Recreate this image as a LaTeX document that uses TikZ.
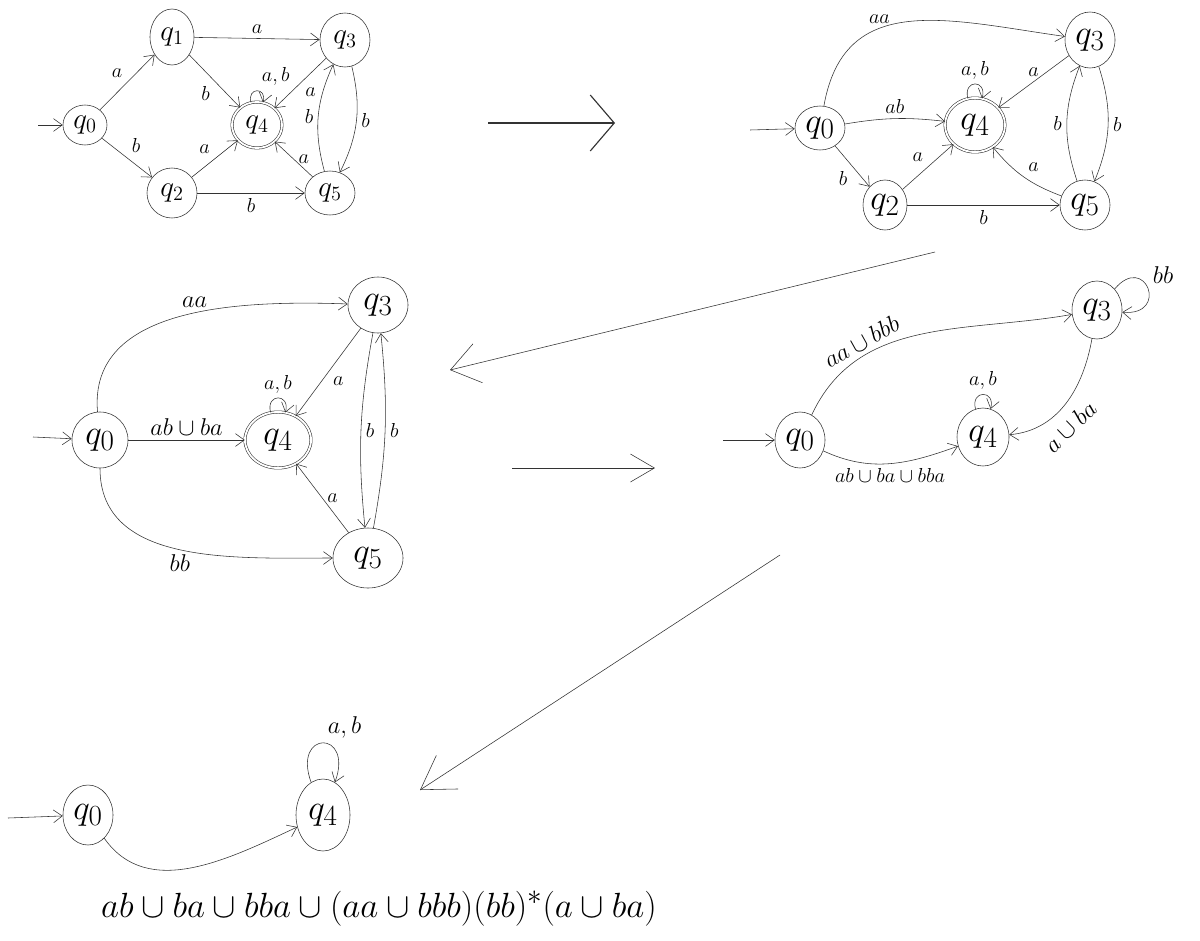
\documentclass[tikz,border=0pt]{standalone}
\usepackage{amsmath,amssymb}
\usepackage{tikz}
\usetikzlibrary{arrows.meta,positioning,shapes.geometric}

\begin{document}
\begin{tikzpicture}[x=0.025cm,y=-0.025cm,>={Straight Barb[length=2.2mm,width=3.2mm]},
  qstate/.style={draw=black!80,ellipse,inner sep=0pt,font=\Huge},
  qfinal/.style={qstate,double,double distance=1.3pt},
  sz/.style 2 args={minimum width=#1cm,minimum height=#2cm},
  lbl/.style={font=\LARGE},
  slbl/.style={font=\Large},
  edge/.style={->,draw=black!80},
  bigarr/.style 2 args={draw=black!80,-{Straight Barb[length=#1,width=#2]}}]
  \useasboundingbox (0,0) rectangle (1200,940);

  % first automaton
  \node[qstate,sz={1.1}{1.0},font=\huge] (a0) at (85,125) {$q_0$};
  \node[qstate,sz={1.1}{1.4},font=\huge] (a1) at (172,37) {$q_1$};
  \node[qstate,sz={1.25}{1.35},font=\huge] (a3) at (345,40) {$q_3$};
  \node[qfinal,sz={1.25}{1.15},font=\huge] (a4) at (257,125) {$q_4$};
  \node[qstate,sz={1.25}{1.25},font=\huge] (a2) at (172,193) {$q_2$};
  \node[qstate,sz={1.25}{1.1},font=\huge] (a5) at (330,193) {$q_5$};
  \coordinate (a0in) at (38,125);
  \draw[edge] (a0in) -- (a0);
  \draw[edge] (a0) -- node[slbl,above left] {$a$} (a1);
  \draw[edge] (a0) -- node[slbl,above right] {$b$} (a2);
  \draw[edge] (a1) -- node[slbl,above] {$a$} (a3);
  \draw[edge] (a1) -- node[slbl,below left] {$b$} (a4);
  \draw[edge] (a4) to[loop above,min distance=4mm] node[slbl,above right] {$a,b$} (a4);
  \draw[edge] (a3) -- node[slbl,below right] {$a$} (a4);
  \draw[edge] (a2) -- node[slbl,above left] {$a$} (a4);
  \draw[edge] (a5) -- node[slbl,right] {$a$} (a4);
  \draw[edge] (a5) to[bend left=20] node[slbl,left] {$b$} (a3);
  \draw[edge] (a3) to[bend left=20] node[slbl,right] {$b$} (a5);
  \draw[edge] (a2) -- node[slbl,below] {$b$} (a5);

  \coordinate (m1s) at (488,123);
  \coordinate (m1t) at (615,123);
  \draw[bigarr={6mm}{14mm},thick] (m1s) -- (m1t);

  % q1 removed
  \node[qstate,sz={1.25}{1.1}] (b0) at (820,128) {$q_0$};
  \node[qfinal,sz={1.5}{1.35}] (b4) at (975,125) {$q_4$};
  \node[qstate,sz={1.25}{1.4}] (b3) at (1090,40) {$q_3$};
  \node[qstate,sz={1.1}{1.25}] (b2) at (885,205) {$q_2$};
  \node[qstate,sz={1.25}{1.25}] (b5) at (1085,205) {$q_5$};
  \coordinate (b0in) at (750,130);
  \draw[edge] (b0in) -- (b0);
  \draw[edge] (b0) to[out=80,in=172,looseness=1.2] node[slbl,above,pos=0.38] {$aa$} (b3);
  \draw[edge] (b0) to[bend left=8] node[slbl,above] {$ab$} (b4);
  \draw[edge] (b4) to[loop above,min distance=5mm] node[slbl,above] {$a,b$} (b4);
  \draw[edge] (b3) -- node[slbl,above] {$a$} (b4);
  \draw[edge] (b0) -- node[slbl,below left] {$b$} (b2);
  \draw[edge] (b2) -- node[slbl,above left] {$a$} (b4);
  \draw[edge] (b2) -- node[slbl,below] {$b$} (b5);
  \draw[edge] (b5) to[bend left=15] node[slbl,above right] {$a$} (b4);
  \draw[edge] (b5) to[bend left=20] node[slbl,left] {$b$} (b3);
  \draw[edge] (b3) to[bend left=20] node[slbl,right] {$b$} (b5);

  \coordinate (m2s) at (935,252);
  \coordinate (m2t) at (450,370);
  \draw[bigarr={7mm}{10mm}] (m2s) -- (m2t);

  % q2 removed
  \node[qstate,sz={1.4}{1.4}] (c0) at (100,440) {$q_0$};
  \node[qfinal,sz={1.65}{1.4}] (c4) at (278,440) {$q_4$};
  \node[qstate,sz={1.5}{1.4}] (c3) at (378,305) {$q_3$};
  \node[qstate,sz={1.75}{1.5}] (c5) at (368,558) {$q_5$};
  \coordinate (c0in) at (33,437);
  \draw[edge] (c0in) -- (c0);
  \draw[edge] (c0) to[out=95,in=178] node[lbl,above,pos=0.55] {$aa$} (c3);
  \draw[edge] (c4) to[loop above,min distance=5mm] node[slbl,above] {$a,b$} (c4);
  \draw[edge] (c3) -- node[slbl,below right] {$a$} (c4);
  \draw[edge] (c0) -- node[lbl,above] {$ab\cup ba$} (c4);
  \draw[edge] (c5) -- node[slbl,right] {$a$} (c4);
  \draw[edge] (c0) to[out=-90,in=180] node[lbl,below,pos=0.5] {$bb$} (c5);
  \draw[edge] (c3) to[bend right=8] node[slbl,right] {$b$} (c5);
  \draw[edge] (c5) to[bend right=8] node[slbl,right] {$b$} (c3);

  \coordinate (m3s) at (512,468);
  \coordinate (m3t) at (655,468);
  \draw[bigarr={6mm}{7mm}] (m3s) -- (m3t);

  % q5 removed
  \node[qstate,sz={1.25}{1.4}] (d0) at (800,440) {$q_0$};
  \node[qstate,sz={1.3}{1.45}] (d4) at (983,437) {$q_4$};
  \node[qstate,sz={1.25}{1.45}] (d3) at (1097,310) {$q_3$};
  \coordinate (d0in) at (723,440);
  \draw[edge] (d0in) -- (d0);
  \draw[edge] (d0) to[out=65,in=190] node[lbl,above,sloped,pos=0.3] {$aa\cup bbb$} (d3);
  \draw[edge] (d3) to[out=50,in=-5,min distance=12mm] node[lbl,above right] {$bb$} (d3);
  \draw[edge] (d4) to[loop above,min distance=5mm] node[slbl,above] {$a,b$} (d4);
  \draw[edge] (d3) to[out=-100,in=5] node[lbl,below,sloped,pos=0.6,inner sep=7pt] {$a\cup ba$} (d4);
  \draw[edge] (d0) to[out=-25,in=200] node[slbl,below] {$ab\cup ba\cup bba$} (d4);

  \coordinate (m4s) at (780,555);
  \coordinate (m4t) at (420,790);
  \draw[bigarr={8mm}{10mm}] (m4s) -- (m4t);

  % q3 removed
  \node[qstate,sz={1.25}{1.5}] (e0) at (88,815) {$q_0$};
  \node[qstate,sz={1.35}{1.8}] (e4) at (323,815) {$q_4$};
  \coordinate (e0in) at (8,818);
  \draw[edge] (e0in) -- (e0);
  \draw[edge] (e4) to[out=110,in=70,min distance=14mm] node[lbl,above right] {$a,b$} (e4);
  \draw[edge] (e0) to[out=-55,in=205] node[font=\Huge,pos=0,anchor=north west,yshift=-12mm,xshift=-2mm] {$ab\cup ba\cup bba\cup(aa\cup bbb)(bb)^*(a\cup ba)$} (e4);
\end{tikzpicture}
\end{document}
